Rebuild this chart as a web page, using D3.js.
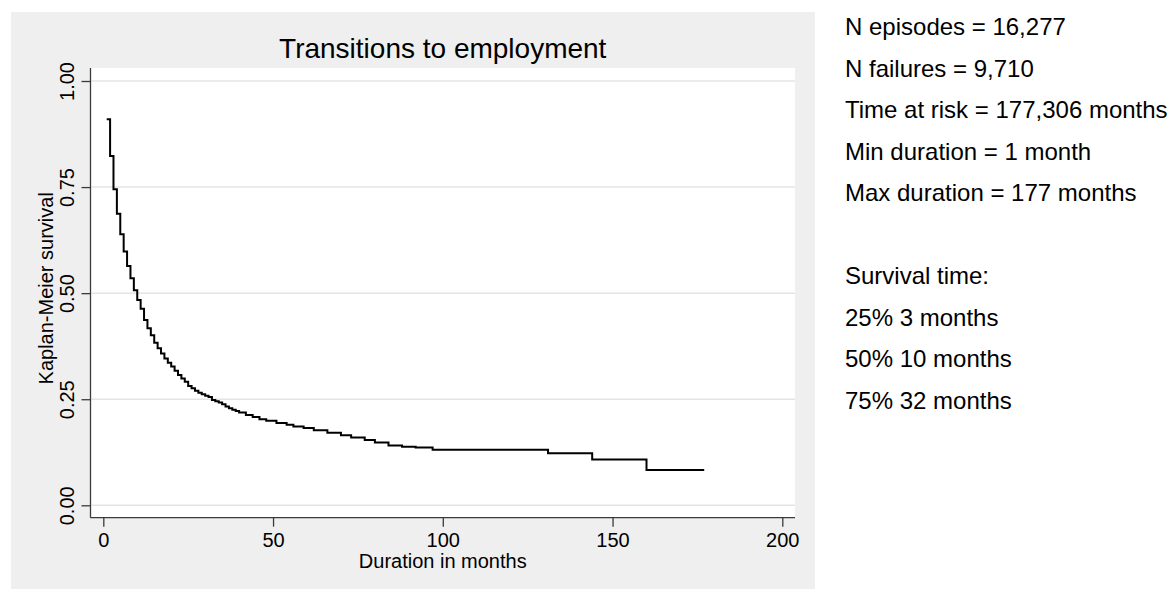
<!DOCTYPE html>
<html>
<head>
<meta charset="utf-8">
<script src="https://cdn.jsdelivr.net/npm/d3@7"></script>
<style>
  body { margin: 0; background: #fff; }
  svg { display: block; font-family: "Liberation Sans", Arial, sans-serif; }
</style>
</head>
<body>
<svg></svg>
<script>
// Kaplan-Meier estimate (month, survival)
var months = [1, 2, 3, 4, 5, 6, 7, 8, 9, 10, 11, 12, 13, 14, 15, 16, 17, 18, 19, 20,
  21, 22, 23, 24, 25, 26, 27, 28, 29, 30, 31, 32, 33, 34, 35, 36, 37, 38, 39, 40,
  42, 44, 46, 48, 51, 54, 56, 59, 62, 66, 70, 73, 77, 80, 84, 88, 92, 97, 131, 144, 160, 177];
var survival = [0.910, 0.823, 0.745, 0.687, 0.639, 0.598, 0.564, 0.535, 0.507, 0.484,
  0.463, 0.437, 0.417, 0.401, 0.383, 0.370, 0.358, 0.346, 0.336, 0.327,
  0.317, 0.307, 0.299, 0.291, 0.281, 0.276, 0.270, 0.265, 0.262, 0.258,
  0.255, 0.248, 0.245, 0.242, 0.238, 0.233, 0.229, 0.225, 0.222, 0.219,
  0.213, 0.208, 0.203, 0.199, 0.194, 0.190, 0.186, 0.182, 0.177, 0.171,
  0.165, 0.160, 0.154, 0.148, 0.141, 0.138, 0.136, 0.131, 0.1225, 0.108, 0.083, 0.083];

var xTicks = [0, 50, 100, 150, 200];
var yTicks = [0, 0.25, 0.5, 0.75, 1];

var title = "Transitions to employment";
var xTitle = "Duration in months";
var yTitle = "Kaplan-Meier survival";

var notes = ["N episodes = 16,277", "N failures = 9,710", "Time at risk = 177,306 months",
  "Min duration = 1 month", "Max duration = 177 months", "",
  "Survival time:", "25% 3 months", "50% 10 months", "75% 32 months"];

var screen = {width: 1174, height: 590};
var plot = {left: 90.5, right: 795, top: 68, bottom: 517.7};

var svg = d3.select("svg")
    .attr("width", screen.width)
    .attr("height", screen.height);

// outer gray graph region
svg.append("rect")
    .attr("x", 11).attr("y", 12)
    .attr("width", 804).attr("height", 577)
    .attr("fill", "#efefef");

svg.append("rect")
    .attr("x", plot.left).attr("y", plot.top)
    .attr("width", plot.right - plot.left).attr("height", plot.bottom - plot.top)
    .attr("fill", "#ffffff");

var xScale = d3.scaleLinear().domain([0, 200]).range([103.3, 782.3]);
var yScale = d3.scaleLinear().domain([0, 1]).range([505.3, 81]);

// grid lines
svg.append("g")
    .selectAll("line")
    .data(yTicks)
    .enter()
    .append("line")
    .attr("x1", plot.left + 1)
    .attr("x2", plot.right)
    .attr("y1", function(d){return yScale(d);})
    .attr("y2", function(d){return yScale(d);})
    .attr("stroke", "#e4e4e4")
    .attr("stroke-width", 1.5);

// x axis
var xAxis = svg.append("g")
    .attr("transform", "translate(0," + plot.bottom + ")")
    .call(d3.axisBottom(xScale).tickValues(xTicks).tickSize(9).tickPadding(6).tickFormat(d3.format("d")));
xAxis.select(".domain").attr("d", "M" + plot.left + ",0H" + plot.right);

// y axis
var yAxis = svg.append("g")
    .attr("transform", "translate(" + plot.left + ",0)")
    .call(d3.axisLeft(yScale).tickValues(yTicks).tickSize(9).tickFormat(d3.format(".2f")));
yAxis.select(".domain").attr("d", "M0," + plot.top + "V" + plot.bottom);
yAxis.selectAll(".tick text")
    .attr("transform", "rotate(-90)")
    .attr("x", 0)
    .attr("y", -16.5)
    .attr("dy", 0)
    .attr("text-anchor", "middle");

svg.selectAll(".domain, .tick line")
    .attr("stroke", "#3a3a3a")
    .attr("stroke-width", 1.3);
svg.selectAll(".tick text")
    .attr("font-size", 20)
    .attr("font-family", "Liberation Sans, Arial, sans-serif")
    .attr("fill", "#000");
xAxis.selectAll(".tick text").attr("dy", "0.71em");

// survival curve
var points = months.map(function(m, i){ return {x: m, y: survival[i]}; });
var line = d3.line()
    .x(function(p){return xScale(p.x);})
    .y(function(p){return yScale(p.y);})
    .curve(d3.curveStepAfter);

svg.append("path")
    .datum(points)
    .attr("d", line)
    .attr("fill", "none")
    .attr("stroke", "#000")
    .attr("stroke-width", 2);

// titles
svg.append("text")
    .attr("x", (plot.left + plot.right) / 2)
    .attr("y", 58.3)
    .attr("text-anchor", "middle")
    .attr("font-size", 28)
    .text(title);

svg.append("text")
    .attr("x", (plot.left + plot.right) / 2)
    .attr("y", 568.3)
    .attr("text-anchor", "middle")
    .attr("font-size", 20)
    .text(xTitle);

svg.append("text")
    .attr("transform", "translate(53,288.3) rotate(-90)")
    .attr("text-anchor", "middle")
    .attr("font-size", 20)
    .text(yTitle);

// notes on the right
svg.append("g")
    .selectAll("text")
    .data(notes)
    .enter()
    .append("text")
    .attr("x", 845)
    .attr("y", function(d, i){return 35 + i * 41.5;})
    .attr("font-size", 24)
    .attr("fill", "#000")
    .text(function(d){return d;});
</script>
</body>
</html>
